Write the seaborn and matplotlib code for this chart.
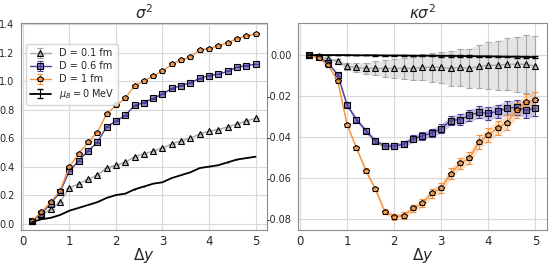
import numpy as np
import matplotlib
matplotlib.use('Agg')
import matplotlib.pyplot as plt
import matplotlib.colors as mcolors
import seaborn as sns

# rapidity window
dy = [0.2, 0.4, 0.6, 0.8, 1.0, 1.2, 1.4, 1.6, 1.8, 2.0, 2.2, 2.4, 2.6,
      2.8, 3.0, 3.2, 3.4, 3.6, 3.8, 4.0, 4.2, 4.4, 4.6, 4.8, 5.0]

# sigma^2
s2_d01 = [0.02, 0.06, 0.10, 0.15, 0.25, 0.28, 0.31, 0.34, 0.39, 0.41, 0.43, 0.47, 0.49,
          0.51, 0.53, 0.56, 0.58, 0.60, 0.63, 0.65, 0.66, 0.68, 0.70, 0.72, 0.74]
s2_d06 = [0.02, 0.07, 0.14, 0.22, 0.37, 0.44, 0.51, 0.57, 0.68, 0.72, 0.76, 0.83, 0.85,
          0.88, 0.91, 0.95, 0.97, 0.99, 1.02, 1.04, 1.05, 1.07, 1.10, 1.11, 1.12]
s2_d1 = [0.02, 0.08, 0.15, 0.23, 0.40, 0.49, 0.57, 0.64, 0.77, 0.83, 0.88, 0.97, 1.00,
         1.04, 1.07, 1.12, 1.15, 1.17, 1.22, 1.23, 1.25, 1.27, 1.30, 1.32, 1.33]
s2_mu0 = [0.01, 0.03, 0.04, 0.06, 0.09, 0.11, 0.13, 0.15, 0.18, 0.20, 0.21, 0.24, 0.26,
          0.28, 0.29, 0.32, 0.34, 0.36, 0.39, 0.40, 0.41, 0.43, 0.45, 0.46, 0.47]
s2_err = [0.0005, 0.0005, 0.0005, 0.0005, 0.0008, 0.0008, 0.0008, 0.001, 0.001, 0.001, 0.001, 0.001, 0.001,
          0.001, 0.001, 0.001, 0.001, 0.001, 0.001, 0.001, 0.001, 0.001, 0.001, 0.001, 0.001]

# kappa sigma^2
ks_d01 = [0.0, -0.0005, -0.002, -0.003, -0.0055, -0.006, -0.0065, -0.0065, -0.0065, -0.0065,
          -0.0065, -0.0065, -0.006, -0.006, -0.006, -0.0065, -0.006, -0.0065, -0.0055, -0.005,
          -0.005, -0.0045, -0.0045, -0.0045, -0.0055]
ks_d01_err = [0.0002, 0.0005, 0.0008, 0.001, 0.0018, 0.0022, 0.0028, 0.0034, 0.004, 0.0046,
              0.0052, 0.0058, 0.0064, 0.007, 0.0077, 0.0084, 0.009, 0.0097, 0.0105, 0.0115,
              0.012, 0.0127, 0.0135, 0.0142, 0.015]
ks_d06 = [0.0, -0.001, -0.004, -0.0095, -0.0245, -0.0315, -0.037, -0.042, -0.0445, -0.0445,
          -0.0435, -0.041, -0.0395, -0.038, -0.036, -0.032, -0.0315, -0.0295, -0.028, -0.0285,
          -0.0275, -0.026, -0.0255, -0.027, -0.026]
ks_d06_err = [0.0002, 0.0003, 0.0005, 0.0007, 0.001, 0.001, 0.0012, 0.0012, 0.0013, 0.0014,
              0.0015, 0.0017, 0.0018, 0.002, 0.0022, 0.0024, 0.0026, 0.0028, 0.003, 0.0031,
              0.0033, 0.0035, 0.0037, 0.0039, 0.004]
ks_d1 = [0.0, -0.0015, -0.005, -0.0125, -0.034, -0.0455, -0.0565, -0.0655, -0.0765, -0.079,
         -0.0785, -0.075, -0.0725, -0.0675, -0.065, -0.058, -0.053, -0.0505, -0.0425, -0.039,
         -0.0355, -0.033, -0.027, -0.023, -0.022]
ks_d1_err = [0.0002, 0.0003, 0.0005, 0.0007, 0.001, 0.001, 0.0011, 0.0012, 0.0013, 0.0014,
             0.0016, 0.0018, 0.002, 0.0022, 0.0024, 0.0026, 0.0028, 0.003, 0.0032, 0.0033,
             0.0035, 0.0036, 0.0038, 0.0039, 0.004]
ks_mu0 = [0.0, 0.0, 0.0, 0.0, 0.0, -0.0001, -0.0001, -0.0001, -0.0002, -0.0002,
          -0.0002, -0.0003, -0.0003, -0.0003, -0.0004, -0.0004, -0.0005, -0.0005, -0.0006, -0.0006,
          -0.0007, -0.0008, -0.0008, -0.0009, -0.001]
ks_mu0_err = [0.0001, 0.0001, 0.0001, 0.0001, 0.0001, 0.0001, 0.0001, 0.0002, 0.0002, 0.0002,
              0.0002, 0.0002, 0.0002, 0.0002, 0.0003, 0.0003, 0.0003, 0.0003, 0.0003, 0.0003,
              0.0003, 0.0003, 0.0004, 0.0004, 0.0004]

labels = ['D = 0.1 fm', 'D = 0.6 fm', 'D = 1 fm', r'$\mu_B = 0$ MeV']
colors = ['#a8a8a8', '#4a3f9a', '#f5913e', 'black']
markers = ['^', 's', 'p', None]

sns.set_style('whitegrid', {'axes.edgecolor': '.55', 'grid.color': '.85'})
plt.rcParams['font.family'] = ['DejaVu Sans']
plt.rcParams['mathtext.fontset'] = 'dejavusans'

fig = plt.figure(figsize=(5.5, 2.64), dpi=100)
ax1 = fig.add_axes([0.038, 0.129, 0.447, 0.784])
ax2 = fig.add_axes([0.542, 0.129, 0.452, 0.784])

left_series = [(s2_d01, s2_err), (s2_d06, s2_err), (s2_d1, s2_err), (s2_mu0, s2_err)]
right_series = [(ks_d01, ks_d01_err), (ks_d06, ks_d06_err), (ks_d1, ks_d1_err), (ks_mu0, ks_mu0_err)]

x = np.array(dy)
handles = {}
for ax, series, band in [(ax1, left_series, False), (ax2, right_series, True)]:
    hs = []
    for (y, e), lab, c, m in zip(series, labels, colors, markers):
        y = np.array(y)
        e = np.array(e)
        if m is None:
            h = ax.errorbar(x, y, yerr=e, color=c, lw=1.3, capsize=2 if band else 0,
                            elinewidth=0.8, label=lab, zorder=4)
            hs.append(h)
            continue
        face = mcolors.to_rgba(c, 0.6)
        h = ax.errorbar(x, y, yerr=e, color=c, lw=1.0, capsize=2, elinewidth=0.8,
                        marker=m, ms=3.8, mfc=face, mec='black', mew=0.8,
                        label=lab, zorder=3)
        hs.append(h)
        if band:
            ax.fill_between(x, y - e, y + e, color=c, alpha=0.3, lw=0, zorder=2)
    handles[ax] = hs

for ax in (ax1, ax2):
    ax.set_xlabel(r'$\Delta y$', fontsize=11, labelpad=-1.5)
    ax.set_xticks([0, 1, 2, 3, 4, 5])
    ax.tick_params(axis='x', labelsize=8.5, pad=0)
    ax.tick_params(axis='y', labelsize=7, pad=1)

ax1.set_title(r'$\sigma^2$', fontsize=11, pad=3)
ax2.set_title(r'$\kappa\sigma^2$', fontsize=11, pad=3)
ax1.set_yticks([0.0, 0.2, 0.4, 0.6, 0.8, 1.0, 1.2, 1.4])
ax1.set_ylim(-0.045, 1.41)
ax2.set_yticks([0.0, -0.02, -0.04, -0.06, -0.08])
ax2.set_yticklabels(['0.00', '-0.02', '-0.04', '-0.06', '-0.08'])
ax2.set_ylim(-0.0855, 0.0157)

# legend: black entry taken from the right panel so it shows the caps
leg_handles = handles[ax1][:3] + [handles[ax2][3]]
ax1.legend(leg_handles, labels, loc='upper left', fontsize=7, frameon=True,
           handlelength=2.2, borderpad=0.4, labelspacing=0.3,
           bbox_to_anchor=(0.0, 0.92))

fig.savefig('out.png', dpi=100)
